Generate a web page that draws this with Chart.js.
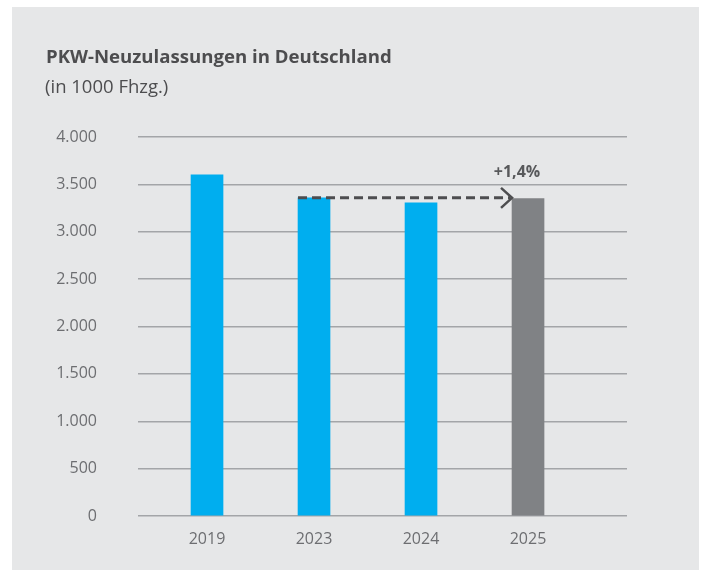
<!DOCTYPE html>
<html>
<head>
<meta charset="utf-8">
<script src="https://cdn.jsdelivr.net/npm/chart.js@4/dist/chart.umd.min.js"></script>
<style>
  html, body { margin: 0; padding: 0; background: #ffffff; }
  #wrap { position: relative; width: 703px; height: 570px; }
</style>
</head>
<body>
<div id="wrap"><canvas id="c" width="703" height="570"></canvas></div>
<script>
const titleText = 'PKW-Neuzulassungen in Deutschland';
const subtitleText = '(in 1000 Fhzg.)';
const categories = ['2019', '2023', '2024', '2025'];
const values = [3600, 3358, 3305, 3350];
const barColors = ['#00aeef', '#00aeef', '#00aeef', '#808285'];
const yTickValues = [0, 500, 1000, 1500, 2000, 2500, 3000, 3500, 4000];
const yTickLabels = ['0', '500', '1.000', '1.500', '2.000', '2.500', '3.000', '3.500', '4.000'];
const changeLabel = '+1,4%';
const arrowFrom = 1;   // index of 2023
const arrowTo = 3;     // index of 2025
const changeLabelValue = 3630;

const FONT = '"Open Sans", "Noto Sans", sans-serif';

const panelPlugin = {
  id: 'panel',
  beforeDraw(chart) {
    const ctx = chart.ctx;
    ctx.save();
    ctx.fillStyle = '#e6e7e8';
    ctx.fillRect(12, 7, 687, 563);
    ctx.fillStyle = '#4d4d4f';
    ctx.textBaseline = 'alphabetic';
    ctx.textAlign = 'left';
    ctx.font = 'bold 18.6px ' + FONT;
    ctx.fillText(titleText, 46, 63);
    ctx.font = '18.5px ' + FONT;
    ctx.fillText(subtitleText, 45, 93);
    ctx.restore();
  }
};

const arrowPlugin = {
  id: 'arrow',
  afterDatasetsDraw(chart) {
    const ctx = chart.ctx;
    const xs = chart.scales.x, ys = chart.scales.y;
    const half = 16;
    const x0 = xs.getPixelForValue(arrowFrom) - half;
    const x1 = xs.getPixelForValue(arrowTo) - half;
    const y = ys.getPixelForValue(values[arrowFrom]);
    ctx.save();
    ctx.strokeStyle = '#4d4d4f';
    ctx.lineWidth = 3;
    ctx.setLineDash([9, 5]);
    ctx.beginPath();
    ctx.moveTo(x0, y);
    ctx.lineTo(x1 - 2, y);
    ctx.stroke();
    ctx.setLineDash([]);
    ctx.lineWidth = 2.5;
    ctx.beginPath();
    ctx.moveTo(x1 - 11, y - 10);
    ctx.lineTo(x1, y);
    ctx.lineTo(x1 - 11, y + 10);
    ctx.stroke();
    ctx.fillStyle = '#58595b';
    ctx.font = 'bold 16px ' + FONT;
    ctx.textAlign = 'center';
    ctx.textBaseline = 'middle';
    ctx.fillText(changeLabel, x1 + 5, ys.getPixelForValue(changeLabelValue));
    ctx.restore();
  }
};

new Chart(document.getElementById('c'), {
  type: 'bar',
  data: {
    datasets: [{
      data: values.map((v, i) => ({ x: i, y: v })),
      backgroundColor: barColors,
      borderWidth: 0,
      barThickness: 32
    }]
  },
  options: {
    responsive: false,
    animation: false,
    devicePixelRatio: 1,
    layout: { padding: { left: 40, right: 76, top: 137, bottom: 18 } },
    plugins: { legend: { display: false }, tooltip: { enabled: false }, title: { display: false } },
    scales: {
      x: {
        type: 'linear',
        offset: false,
        min: -0.645,
        max: 3.925,
        grid: { display: false, offset: false, drawTicks: false },
        border: { display: false },
        afterBuildTicks: (scale) => { scale.ticks = categories.map((_, i) => ({ value: i })); },
        afterFit: (scale) => { scale.height = 36; },
        ticks: {
          autoSkip: false,
          maxRotation: 0,
          padding: 14,
          color: '#6d6e71',
          font: { family: FONT, size: 16 },
          callback: (v) => categories[v]
        }
      },
      y: {
        min: 0,
        max: 4000,
        afterFit: (scale) => { scale.width = 98; },
        afterBuildTicks: (scale) => { scale.ticks = yTickValues.map(v => ({ value: v })); },
        grid: { color: '#a3a5a8', lineWidth: 1.5, drawTicks: false },
        border: { display: false },
        ticks: {
          padding: 41,
          color: '#6d6e71',
          font: { family: FONT, size: 16 },
          callback: (v) => yTickLabels[yTickValues.indexOf(v)]
        }
      }
    }
  },
  plugins: [panelPlugin, arrowPlugin]
});
</script>
</body>
</html>
